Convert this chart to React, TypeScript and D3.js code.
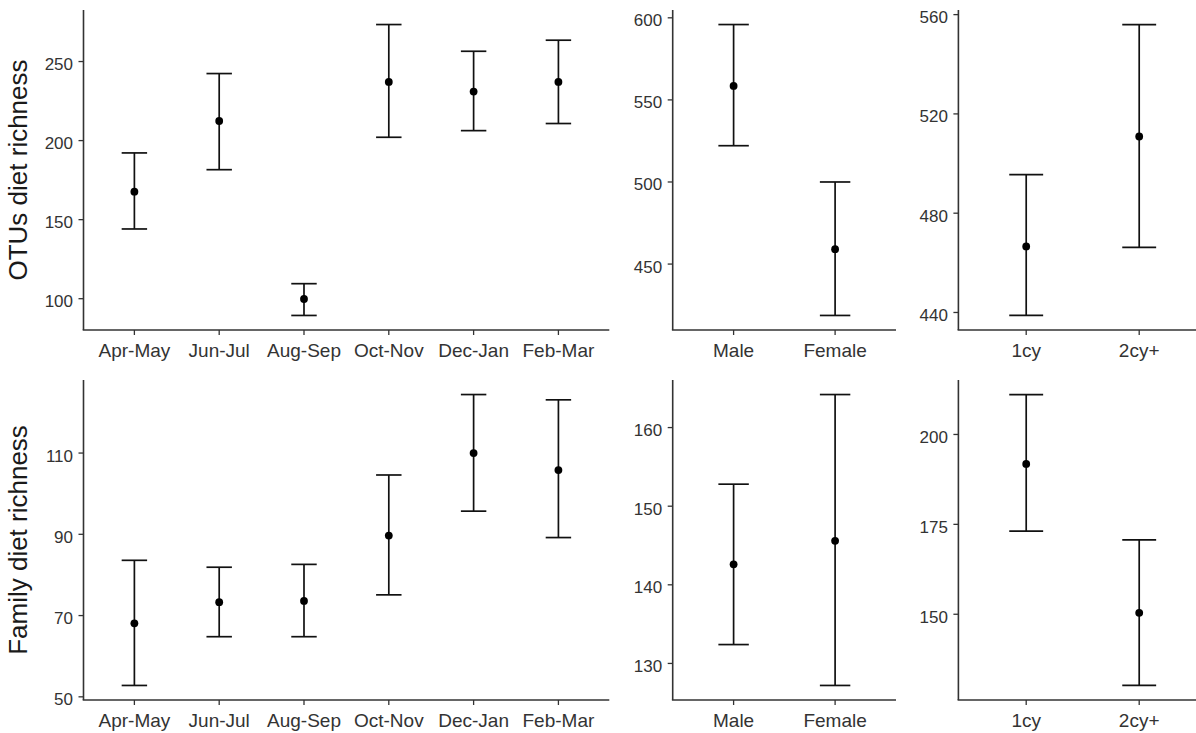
import React from 'react'
import * as d3 from 'd3'

// season / sex / age groups
const seasons = ['Apr-May', 'Jun-Jul', 'Aug-Sep', 'Oct-Nov', 'Dec-Jan', 'Feb-Mar']
const sexes = ['Male', 'Female']
const ages = ['1cy', '2cy+']

// OTUs diet richness (mean with lower / upper interval)
const otuSeasonMean = [167.7, 212.4, 99.8, 237.1, 231.0, 237.1]
const otuSeasonLower = [144.1, 181.6, 89.4, 202.1, 206.3, 210.8]
const otuSeasonUpper = [192.2, 242.4, 109.5, 273.4, 256.5, 263.5]

const otuSexMean = [558.5, 459.1]
const otuSexLower = [522.1, 418.7]
const otuSexUpper = [595.9, 500.0]

const otuAgeMean = [466.6, 510.9]
const otuAgeLower = [438.8, 466.2]
const otuAgeUpper = [495.5, 556.0]

// Family diet richness
const famSeasonMean = [68.1, 73.3, 73.6, 89.7, 110.0, 105.8]
const famSeasonLower = [52.8, 64.8, 64.8, 75.1, 95.7, 89.2]
const famSeasonUpper = [83.6, 81.9, 82.6, 104.6, 124.4, 123.1]

const famSexMean = [142.6, 145.6]
const famSexLower = [132.4, 127.2]
const famSexUpper = [152.8, 164.2]

const famAgeMean = [191.8, 150.4]
const famAgeLower = [173.1, 130.2]
const famAgeUpper = [211.1, 170.7]

// tick labels
const otuSeasonTicks = [100, 150, 200, 250]
const otuSexTicks = [450, 500, 550, 600]
const otuAgeTicks = [440, 480, 520, 560]
const famSeasonTicks = [50, 70, 90, 110]
const famSexTicks = [130, 140, 150, 160]
const famAgeTicks = [150, 175, 200]

const FONT = '"Liberation Sans", Arial, sans-serif'
const AXIS = '#333333'

type PanelProps = {
  cats: string[]
  mean: number[]
  lower: number[]
  upper: number[]
  ticks: number[]
  x0: number
  x1: number
  y0: number
  y1: number
  title?: string
}

const Panel = ({cats, mean, lower, upper, ticks, x0, x1, y0, y1, title}: PanelProps) => {
  const x = d3.scalePoint<string>().domain(cats).range([x0, x1]).padding(0.6)
  // ggplot-style 5% expansion of the data range
  const lo = d3.min(lower) as number
  const hi = d3.max(upper) as number
  const pad = (hi - lo) * 0.05
  const y = d3.scaleLinear().domain([lo - pad, hi + pad]).range([y1, y0])
  const capHalf = x.step() * 0.15

  return (
    <g>
      {title && (
        <text
          transform={`translate(27,${(y0 + y1) / 2}) rotate(-90)`}
          textAnchor="middle"
          fontSize={26}
          fill="#1a1a1a"
          fontFamily={FONT}
        >
          {title}
        </text>
      )}
      {/* y axis */}
      <line x1={x0} x2={x0} y1={y0} y2={y1} stroke={AXIS} strokeWidth={1.6} />
      {ticks.map((t) => (
        <g key={t}>
          <line x1={x0 - 5} x2={x0} y1={y(t)} y2={y(t)} stroke={AXIS} strokeWidth={1.3} />
          <text
            x={x0 - 10.5}
            y={y(t)}
            dy="0.5em"
            textAnchor="end"
            fontSize={17}
            fill="#333"
            fontFamily={FONT}
          >
            {t}
          </text>
        </g>
      ))}
      {/* x axis */}
      <line x1={x0 - 0.8} x2={x1} y1={y1} y2={y1} stroke={AXIS} strokeWidth={1.6} />
      {cats.map((c) => (
        <g key={c}>
          <line x1={x(c)} x2={x(c)} y1={y1} y2={y1 + 5} stroke={AXIS} strokeWidth={1.3} />
          <text
            x={x(c)}
            y={y1 + 27.3}
            textAnchor="middle"
            fontSize={19}
            fill="#333"
            fontFamily={FONT}
          >
            {c}
          </text>
        </g>
      ))}
      {/* error bars and means */}
      {cats.map((c, i) => {
        const cx = x(c) as number
        return (
          <g key={c} stroke="#111" strokeWidth={1.7}>
            <line x1={cx} x2={cx} y1={y(upper[i])} y2={y(lower[i])} />
            <line x1={cx - capHalf} x2={cx + capHalf} y1={y(upper[i])} y2={y(upper[i])} />
            <line x1={cx - capHalf} x2={cx + capHalf} y1={y(lower[i])} y2={y(lower[i])} />
            <circle cx={cx} cy={y(mean[i])} r={3.9} fill="#000" stroke="none" />
          </g>
        )
      })}
    </g>
  )
}

const cols = [
  {x0: 83.5, x1: 609.3},
  {x0: 672.7, x1: 896},
  {x0: 958.4, x1: 1207},
]
const rows = [
  {y0: 10, y1: 330},
  {y0: 380, y1: 700},
]

export default function App() {
  return (
    <svg
      width={1196}
      height={733}
      style={{position: 'absolute', left: 0, top: 0, background: '#fff'}}
    >
      <Panel cats={seasons} mean={otuSeasonMean} lower={otuSeasonLower} upper={otuSeasonUpper}
        ticks={otuSeasonTicks} {...cols[0]} {...rows[0]} title="OTUs diet richness" />
      <Panel cats={sexes} mean={otuSexMean} lower={otuSexLower} upper={otuSexUpper}
        ticks={otuSexTicks} {...cols[1]} {...rows[0]} />
      <Panel cats={ages} mean={otuAgeMean} lower={otuAgeLower} upper={otuAgeUpper}
        ticks={otuAgeTicks} {...cols[2]} {...rows[0]} />
      <Panel cats={seasons} mean={famSeasonMean} lower={famSeasonLower} upper={famSeasonUpper}
        ticks={famSeasonTicks} {...cols[0]} {...rows[1]} title="Family diet richness" />
      <Panel cats={sexes} mean={famSexMean} lower={famSexLower} upper={famSexUpper}
        ticks={famSexTicks} {...cols[1]} {...rows[1]} />
      <Panel cats={ages} mean={famAgeMean} lower={famAgeLower} upper={famAgeUpper}
        ticks={famAgeTicks} {...cols[2]} {...rows[1]} />
    </svg>
  )
}
